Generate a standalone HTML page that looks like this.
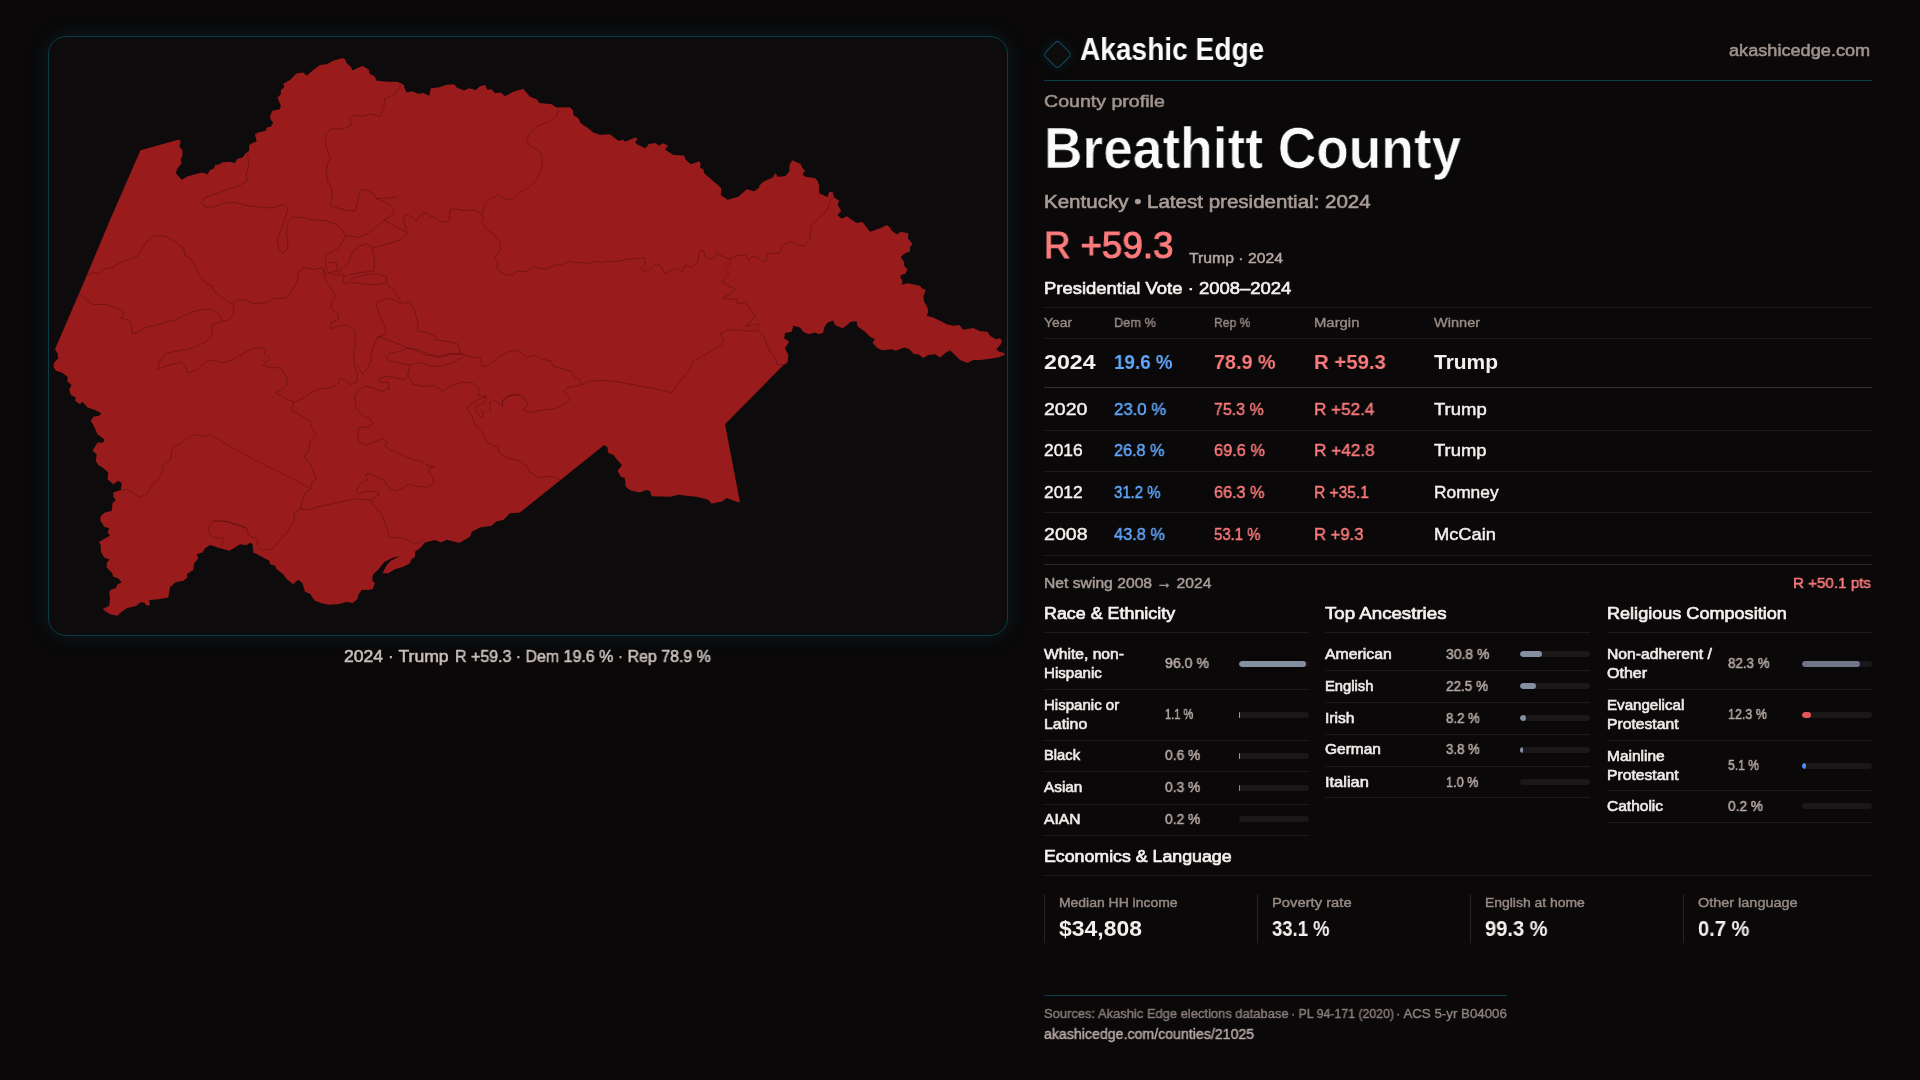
<!DOCTYPE html><html><head><meta charset="utf-8"><title>Breathitt County</title><style>

html,body{margin:0;padding:0}
body{width:1920px;height:1080px;background:#0a0809;position:relative;overflow:hidden;font-family:"Liberation Sans",sans-serif}
.t{position:absolute;will-change:transform;white-space:nowrap;line-height:1;transform-origin:0 50%}
.ln{position:absolute;height:1px;background:#1e1a1b}
.vl{position:absolute;width:1px;background:#1e1a1b}
.bar{position:absolute;height:6px;width:70px;border-radius:3px;background:#1a1718;overflow:hidden}
.bar i{display:block;height:6px;border-radius:3px}
#map{position:absolute;left:48px;top:36px;width:958px;height:598px;border:1px solid #093d4b;border-radius:18px;background:#0d0b0c;box-shadow:0 0 22px rgba(23,110,135,0.19)}

</style></head><body>
<div id="map"></div>
<svg style="position:absolute;left:0;top:0" width="1920" height="1080" viewBox="0 0 1920 1080"><polygon points="140.5,150.3 179.2,139.5 180.8,141.7 179.2,146.7 182.5,150.0 182.5,155.0 180.5,160.0 181.7,163.3 177.5,168.3 175.8,173.3 181.7,179.7 186.7,176.7 195.0,174.2 202.5,172.5 207.5,174.2 210.0,170.0 214.2,168.3 215.0,165.0 220.0,164.2 221.7,162.5 230.0,161.7 235.0,163.0 237.5,158.7 242.5,157.5 245.8,153.3 249.2,150.8 249.2,145.0 253.3,142.5 256.7,141.7 255.0,134.2 258.3,132.5 265.8,130.8 266.7,127.5 270.8,126.7 273.3,122.5 270.8,120.0 270.0,115.8 272.5,110.8 280.0,109.2 280.8,105.8 277.5,97.5 280.8,94.2 280.8,90.0 284.2,87.5 283.3,83.7 290.0,80.0 296.7,73.3 303.3,72.5 306.7,75.8 313.3,70.0 320.0,65.0 326.7,64.2 333.3,60.8 342.5,58.0 345.0,59.2 346.7,63.3 350.8,66.7 352.5,70.5 362.5,65.8 369.2,70.0 369.2,73.3 375.0,76.7 376.7,80.8 388.3,81.7 397.5,81.7 404.2,85.0 404.2,87.5 406.7,92.5 411.7,91.3 418.3,93.7 423.3,93.0 429.2,95.8 430.8,88.3 438.3,87.5 446.7,84.7 454.2,84.2 456.7,87.5 464.2,90.5 469.2,88.3 475.8,90.0 480.0,86.3 485.0,85.0 487.5,89.7 491.7,89.2 495.0,93.3 500.8,92.5 505.0,96.3 513.3,91.7 523.3,88.7 530.0,96.7 536.7,99.2 539.2,103.0 551.7,104.2 556.7,107.5 570.0,107.2 573.3,110.8 573.3,115.0 578.3,118.3 580.8,123.3 588.3,128.3 593.3,132.5 600.0,134.7 610.0,134.2 618.3,140.8 623.3,139.7 625.0,141.7 635.8,137.2 637.5,139.2 635.0,142.5 638.3,145.0 645.4,148.3 648.8,144.0 655.0,143.1 659.2,145.8 662.5,143.3 668.3,145.5 665.0,149.5 673.3,155.0 684.2,155.5 685.8,159.7 690.8,164.2 699.2,161.3 700.8,164.2 700.0,167.5 703.3,169.2 704.2,173.3 710.0,178.3 715.8,183.3 721.3,188.3 720.8,195.0 727.5,199.7 738.3,196.7 746.7,189.2 754.2,191.3 759.2,187.5 759.2,185.8 763.3,181.7 772.5,177.5 775.8,173.0 777.5,176.7 785.0,176.3 789.2,171.7 789.7,164.2 792.5,160.3 800.8,164.2 802.5,168.3 805.0,170.8 802.5,174.2 805.8,177.0 815.0,178.0 817.5,180.8 819.2,185.8 819.2,193.3 827.5,197.0 829.2,192.0 832.5,192.0 834.2,197.5 839.2,200.8 837.5,205.0 841.3,210.8 837.5,215.0 841.7,218.7 846.7,216.3 856.7,223.0 862.5,222.0 870.0,231.7 880.8,228.0 886.7,225.0 890.0,227.5 891.7,230.8 897.2,234.5 900.4,231.7 908.3,233.3 908.0,238.5 912.5,244.0 910.0,247.0 910.0,251.2 904.0,254.0 900.8,257.0 903.8,261.5 904.2,265.5 907.5,269.8 905.0,274.0 900.8,275.0 900.5,278.0 902.5,280.8 901.7,284.7 907.5,283.3 920.0,285.8 921.7,288.3 925.8,290.0 923.3,296.7 924.2,301.7 927.5,307.5 928.3,311.7 926.7,315.8 933.3,317.5 940.0,320.8 946.7,324.2 953.3,325.8 959.2,325.0 963.3,329.7 973.3,328.0 980.0,331.3 987.5,331.7 990.0,335.8 995.8,339.2 1000.0,338.3 1002.0,340.8 1000.8,344.2 996.3,349.2 999.2,351.7 1004.2,353.0 1004.7,354.7 998.3,357.5 993.3,358.3 986.7,359.2 980.0,360.0 973.3,360.0 967.5,363.0 960.0,360.0 955.0,355.0 950.0,350.3 945.0,353.3 940.0,357.5 935.0,354.2 928.3,355.0 923.3,358.0 918.3,354.2 914.2,354.2 909.2,349.2 904.2,347.5 895.8,350.8 891.7,349.2 881.7,350.3 876.7,347.5 872.5,342.5 875.0,339.2 870.0,336.7 865.0,331.7 860.0,328.3 857.5,326.3 856.7,321.3 850.8,321.7 845.0,326.7 842.5,328.3 835.0,325.0 833.3,320.5 827.5,322.5 824.2,327.5 823.3,332.5 819.2,334.2 815.0,332.5 808.3,334.2 803.3,331.7 800.0,327.5 793.3,325.8 791.7,331.7 785.0,333.0 784.2,338.3 789.2,341.7 785.0,348.3 788.3,355.0 787.5,362.5 783.3,365.3 725.0,424.2 740.0,502.5 735.0,501.3 726.7,498.0 722.5,501.3 711.7,503.7 708.3,499.7 696.7,496.7 686.7,495.8 678.3,494.7 670.0,496.7 651.7,496.3 650.0,491.3 646.7,490.0 639.2,492.5 630.0,490.3 625.8,486.7 624.7,478.0 620.8,476.7 617.5,470.8 622.0,465.3 616.7,459.2 613.3,454.7 608.3,453.0 607.5,447.5 604.2,445.0 520.0,512.5 510.0,513.3 503.3,520.0 496.7,521.3 491.7,525.8 480.0,527.5 471.7,531.7 470.0,536.7 459.2,543.0 446.7,539.7 440.8,542.5 435.0,540.0 425.0,542.5 420.0,548.3 415.0,551.7 415.0,556.7 410.8,560.0 410.0,563.3 403.3,566.7 395.0,569.2 388.3,573.3 382.5,573.3 386.7,565.0 391.0,560.5 399.7,556.2 393.3,557.5 384.2,562.0 378.0,570.0 373.3,574.2 372.5,576.7 372.5,580.8 375.0,583.3 372.5,589.2 367.5,590.0 361.7,589.7 358.3,595.0 357.5,599.2 352.5,603.0 346.7,602.0 338.3,604.2 328.3,604.7 321.7,603.3 315.0,600.8 311.7,596.7 310.8,594.2 305.0,591.7 302.5,583.3 298.3,579.7 295.8,581.7 293.3,584.2 286.7,579.0 283.3,574.2 276.7,569.2 275.0,565.8 270.0,564.2 269.2,560.8 261.7,556.7 253.3,552.5 252.5,544.2 250.0,542.5 246.7,545.3 240.0,544.2 235.0,547.5 229.2,550.8 220.0,548.3 210.0,545.0 205.0,548.3 202.5,552.5 196.7,554.2 198.3,558.3 194.2,563.3 193.3,570.0 186.7,574.2 187.5,577.5 183.3,580.8 175.0,582.5 170.0,587.5 169.2,592.5 168.3,597.5 158.3,599.2 149.2,600.0 150.0,605.0 146.7,605.8 144.2,602.5 140.0,602.5 136.7,605.8 126.7,608.3 121.7,611.7 117.5,615.8 110.0,614.2 102.5,609.2 109.2,605.8 110.0,598.3 109.2,591.7 111.7,589.2 115.8,588.3 117.5,584.2 121.7,582.5 118.3,578.3 113.3,576.7 111.7,572.5 106.7,567.5 106.7,563.3 109.2,559.2 104.2,557.5 100.8,551.7 100.8,545.8 99.2,541.7 106.7,537.5 110.0,535.8 107.5,532.5 109.2,528.3 104.2,526.7 100.0,520.0 100.8,515.8 105.0,512.5 111.7,510.8 112.5,503.3 115.8,500.0 113.3,496.7 113.3,492.5 120.8,490.0 121.7,483.3 118.3,480.8 113.3,484.2 107.5,479.2 108.3,472.5 102.5,467.5 98.3,465.0 95.8,460.8 96.7,454.2 92.5,450.8 97.5,442.5 103.0,442.5 104.7,439.7 97.5,434.2 94.2,426.7 90.8,420.8 93.3,416.7 99.2,415.8 101.3,413.3 95.0,410.0 87.5,407.5 82.5,401.7 80.0,404.2 75.0,400.8 75.8,397.5 70.8,395.0 69.2,389.2 71.7,385.0 67.5,381.7 67.5,376.7 61.7,372.5 55.8,370.8 53.3,366.7 54.2,362.5 58.3,358.3 57.5,353.3 55.0,349.2 84.8,280.0 110.0,220.0" fill="#991b1b"/><path d="M247.5 153.8 L248.8 165.0 L246.3 175.0 L247.0 181.3 L240.0 185.0 L220.0 192.5 L205.0 197.5 L201.3 202.5 L205.0 207.0 L212.5 207.0 L225.0 203.0 L235.0 202.5 L247.5 205.5 L265.0 208.0 L275.0 207.0 L283.8 204.5 L288.0 208.8 L286.3 215.0 L282.5 225.0 L280.0 232.5 L277.0 240.0 L278.8 248.8 L282.5 253.3 L287.5 250.0 L288.0 242.5 L286.3 232.5 L287.5 223.8 L292.5 217.5 L300.0 217.0 L312.5 220.0 L325.0 220.5 L336.3 224.5 L342.5 230.0 L345.5 236.3 L353.8 236.3 L358.8 237.5 L367.5 233.8 L375.0 227.5 L383.8 220.5 L393.8 213.8 L392.5 207.5 L386.3 202.5 L376.3 198.8 L373.8 193.8 L367.5 190.5 L361.3 189.5 L358.8 196.3 L356.3 206.3 L354.5 211.3 L345.0 210.0 L336.3 207.5 L330.0 205.0 L332.5 195.0 L331.3 187.5 L327.5 181.3 L326.3 171.3 L327.5 163.8 L330.5 157.5 L327.5 150.0 L325.0 142.5 L326.3 133.8 L331.3 128.8 L343.8 128.8 L351.3 125.0 L350.0 118.8 L353.8 115.0 L362.5 116.3 L370.0 113.8 L380.0 116.3 L383.8 107.5 L385.0 98.8 L395.0 93.8 L400.0 86.3 L401.3 84.5" fill="none" stroke="#470d0f" stroke-width="0.42" stroke-linejoin="round"/><path d="M376.3 198.8 L387.5 198.0 L397.5 197.0" fill="none" stroke="#470d0f" stroke-width="0.42" stroke-linejoin="round"/><path d="M384.0 220.0 L395.0 226.3 L407.5 233.0 L405.0 225.0 L402.5 217.5 L407.5 215.0 L412.5 217.5 L416.3 221.3 L420.0 215.0 L426.3 212.5 L430.0 216.3 L437.5 218.0 L440.0 222.0 L448.8 221.3 L450.0 210.0 L455.0 208.8 L465.0 210.5 L475.0 210.0 L482.5 215.0" fill="none" stroke="#470d0f" stroke-width="0.42" stroke-linejoin="round"/><path d="M407.5 233.0 L400.0 240.0 L387.5 243.8 L372.5 248.0 L367.5 243.8 L360.0 245.5 L352.5 252.5 L348.8 262.5 L340.0 270.0 L337.5 275.0" fill="none" stroke="#470d0f" stroke-width="0.42" stroke-linejoin="round"/><path d="M372.5 248.0 L374.5 260.0 L373.8 271.3 L365.0 272.0 L352.5 273.8 L343.8 276.3 L342.5 281.3 L347.5 283.8 L351.3 278.8 L365.0 275.0 L377.5 273.8 L386.3 276.3 L386.3 282.5 L375.0 285.0 L362.5 283.8 L351.3 282.5" fill="none" stroke="#470d0f" stroke-width="0.42" stroke-linejoin="round"/><path d="M345.5 236.3 L338.8 247.5 L326.3 255.0 L325.0 262.5 L327.5 272.5 L333.8 275.0 L343.8 275.0" fill="none" stroke="#470d0f" stroke-width="0.42" stroke-linejoin="round"/><path d="M328.8 262.5 L336.3 262.5 L337.5 271.3 L328.8 272.5" fill="none" stroke="#470d0f" stroke-width="0.42" stroke-linejoin="round"/><path d="M85.0 276.3 L93.8 272.5 L100.0 273.8 L105.0 268.8 L112.5 267.5 L120.0 262.5 L127.5 260.0 L137.5 256.3 L142.5 247.5 L147.5 240.0 L155.0 235.5 L165.0 236.3 L175.0 241.3 L183.8 248.8 L185.0 255.0 L192.5 260.0 L195.0 267.5 L200.0 276.3 L205.0 282.5 L212.5 286.3 L215.0 292.5 L222.5 297.5 L232.5 304.5 L237.5 300.0 L245.0 300.0 L255.0 303.8 L267.5 302.5 L273.8 298.8 L286.3 297.5 L292.5 290.0 L297.5 280.0 L298.8 271.3 L303.8 267.5 L312.5 269.5 L322.5 267.5 L326.3 275.0" fill="none" stroke="#470d0f" stroke-width="0.42" stroke-linejoin="round"/><path d="M78.8 292.5 L86.3 300.0 L93.8 304.5 L106.3 304.5 L115.0 307.5 L122.5 310.5 L123.8 315.0 L120.5 318.0 L128.8 320.0 L131.3 326.3 L132.5 333.8 L140.0 331.3 L145.0 327.5 L157.5 325.0 L165.0 322.5 L175.0 320.0 L182.5 316.3 L192.5 312.0 L202.5 309.5 L211.3 309.3 L217.5 312.5 L220.5 317.5 L222.5 321.3 L228.8 320.0 L233.8 313.8 L233.8 306.3" fill="none" stroke="#470d0f" stroke-width="0.42" stroke-linejoin="round"/><path d="M322.5 268.8 L325.0 277.5 L327.5 283.8 L332.5 290.0 L336.3 297.5" fill="none" stroke="#470d0f" stroke-width="0.42" stroke-linejoin="round"/><path d="M386.3 282.5 L395.0 292.5 L401.3 302.5" fill="none" stroke="#470d0f" stroke-width="0.42" stroke-linejoin="round"/><path d="M558.8 110.0 L556.3 116.3 L550.0 121.3 L540.0 125.0 L533.8 128.8 L528.8 135.0 L526.3 141.3 L531.3 146.3 L540.0 151.3 L542.5 157.5 L541.3 168.8 L536.3 180.0 L528.8 187.5 L518.8 192.5 L511.3 200.0 L505.0 198.8 L498.8 195.0 L490.0 198.8 L483.8 206.3 L482.5 215.0 L483.8 220.0 L481.3 222.5 L487.5 230.0 L496.3 236.3 L500.0 242.5 L500.0 250.0 L495.0 257.5 L497.5 262.5 L496.3 267.5 L500.0 271.3 L506.3 275.0 L512.5 275.0 L517.5 271.3 L527.5 271.3 L533.8 266.3 L540.0 268.8 L547.5 268.8 L555.0 265.0 L561.3 265.0 L568.8 261.3 L576.3 262.5 L582.5 262.5 L590.0 263.8 L593.8 261.3 L602.5 262.5 L607.5 261.3 L617.5 261.3 L630.0 258.8 L637.5 258.8 L643.8 257.5 L645.5 263.8 L641.3 268.8 L643.8 271.3 L650.0 270.0 L655.0 263.8 L660.0 265.0 L665.0 273.8 L670.0 271.3 L675.0 267.5 L682.5 272.0 L685.0 265.0 L692.5 267.5 L697.5 262.5 L700.0 250.0 L703.8 250.5 L705.0 256.3 L708.8 259.3 L713.8 257.5 L716.3 253.3 L722.5 256.3 L730.0 259.3 L737.5 255.5 L745.0 255.0 L748.8 260.5 L752.5 256.3 L757.5 257.5 L761.3 261.3 L766.3 260.5 L767.0 253.8 L780.0 253.0 L782.5 245.0 L791.3 241.3 L797.5 245.0 L803.8 246.3 L810.0 238.8 L811.3 225.0 L816.3 220.0 L825.0 212.5 L828.8 206.3 L830.0 200.0 L835.0 196.3" fill="none" stroke="#470d0f" stroke-width="0.42" stroke-linejoin="round"/><path d="M730.0 259.3 L730.0 263.8 L725.0 268.8 L728.8 273.8 L723.8 278.8 L722.5 282.5 L730.0 286.3 L735.0 288.8 L730.0 293.8 L722.5 298.0 L730.0 299.5 L737.5 298.8 L737.5 303.8 L745.0 302.5 L751.3 310.0 L755.0 315.0 L751.3 321.3 L746.3 326.3 L753.8 325.0 L758.8 323.8 L757.5 330.0" fill="none" stroke="#470d0f" stroke-width="0.42" stroke-linejoin="round"/><path d="M757.5 330.0 L763.8 336.3 L767.5 345.0 L770.0 352.5 L775.0 357.5 L777.5 364.5 L786.3 365.0" fill="none" stroke="#470d0f" stroke-width="0.42" stroke-linejoin="round"/><path d="M757.5 330.0 L750.0 331.3 L740.0 330.0 L727.5 330.0 L720.0 333.8 L723.8 338.8 L721.3 345.0 L712.5 350.0 L702.5 356.3 L692.5 361.3 L690.0 368.8 L685.0 375.0 L677.5 385.0 L671.3 392.5 L655.0 388.8 L635.0 385.0 L615.0 381.3 L600.0 380.5 L587.5 381.3 L581.3 385.0 L580.0 379.5 L575.0 377.5 L571.3 371.3 L562.5 368.8 L552.5 366.3 L551.3 361.3 L541.3 358.8 L533.8 355.0 L526.3 357.5 L521.3 352.5 L517.5 350.5" fill="none" stroke="#470d0f" stroke-width="0.42" stroke-linejoin="round"/><path d="M581.3 385.0 L567.5 387.5 L563.8 391.3 L570.0 397.5 L567.5 402.5 L555.0 408.8 L542.5 410.0 L530.0 412.5 L523.8 410.0 L527.5 405.0 L523.8 397.5 L517.5 393.8 L507.5 396.3 L502.5 401.3 L502.5 406.3 L495.0 400.0 L490.0 402.5 L490.0 412.5" fill="none" stroke="#470d0f" stroke-width="0.42" stroke-linejoin="round"/><path d="M222.5 321.3 L212.5 325.0 L211.3 336.3 L205.0 342.5 L190.0 348.8 L176.3 351.3 L165.0 353.8 L160.0 361.3 L158.0 368.8 L170.0 365.0 L181.3 362.0 L186.3 368.8 L187.5 373.0 L196.3 370.5 L205.0 362.0 L212.5 360.0 L222.5 363.0 L232.5 360.0 L242.5 353.8 L252.5 348.8 L261.3 347.5 L266.3 350.0 L263.8 353.8 L270.0 358.0 L266.3 362.5 L262.5 365.5 L271.3 367.5 L281.3 368.0 L283.8 373.8 L287.5 377.5 L286.3 385.0 L281.3 390.0 L275.5 392.5 L280.0 395.5 L286.3 398.8 L293.8 402.0" fill="none" stroke="#470d0f" stroke-width="0.42" stroke-linejoin="round"/><path d="M293.8 402.0 L305.0 397.5 L310.0 393.0 L320.0 388.8 L332.5 387.5 L338.8 382.5 L340.0 377.5 L345.0 380.0 L350.0 384.5 L356.3 382.5 L357.5 375.0 L354.5 365.0 L353.8 352.5 L355.5 342.5 L354.5 330.0 L346.3 325.0 L337.5 326.3 L330.0 328.8 L331.3 322.5 L338.8 318.8 L337.5 313.8 L331.3 308.8 L331.3 301.3 L336.3 297.5" fill="none" stroke="#470d0f" stroke-width="0.42" stroke-linejoin="round"/><path d="M293.8 402.0 L291.3 410.0 L300.0 415.0 L310.0 421.3 L312.5 428.8 L316.3 435.0 L310.0 441.3 L308.8 450.0 L303.8 457.5 L310.0 463.0 L313.0 471.0 L316.5 478.5 L311.0 483.5 L312.0 488.0 L305.0 493.3 L302.0 501.0 L301.0 508.5 L293.5 513.5 L295.0 520.0 L290.0 526.7 L286.7 533.3 L278.3 541.7 L271.7 549.2 L261.7 550.0 L257.5 545.0 L256.7 539.2 L248.3 535.0 L246.7 528.3 L236.7 525.0 L228.3 521.7 L213.3 520.8 L208.3 528.3 L210.0 535.0 L214.2 537.5 L223.3 538.3 L224.2 541.7 L220.8 546.7" fill="none" stroke="#470d0f" stroke-width="0.42" stroke-linejoin="round"/><path d="M121.3 490.0 L127.5 489.5 L133.8 493.8 L138.8 497.5 L147.5 493.8 L151.3 486.3 L157.5 480.0 L162.5 472.5 L162.5 466.3 L170.0 460.0 L172.5 447.5 L180.0 443.8 L190.0 436.3 L196.3 434.5 L203.8 437.0 L210.0 434.5 L230.0 446.3 L252.5 458.8 L275.0 470.0 L295.0 480.0 L310.0 488.5" fill="none" stroke="#470d0f" stroke-width="0.42" stroke-linejoin="round"/><path d="M301.0 508.5 L307.5 510.0 L320.0 506.3 L340.0 502.0 L357.5 498.8 L370.0 500.0 L375.0 507.5 L380.0 511.3 L383.8 520.0 L387.5 530.0 L388.8 537.5 L397.5 537.5 L407.5 540.0 L415.0 543.8 L422.5 541.3" fill="none" stroke="#470d0f" stroke-width="0.42" stroke-linejoin="round"/><path d="M370.0 500.0 L378.8 495.0 L377.5 491.3 L367.5 491.3 L358.8 493.8 L356.3 490.0 L360.0 483.8 L367.5 480.0 L365.0 475.0 L370.0 473.3 L377.5 477.5 L383.8 480.0 L387.5 486.3 L395.0 491.3 L403.8 487.5 L410.0 483.8 L417.5 486.3 L427.5 487.0 L433.8 483.8 L432.5 477.5 L428.8 472.5 L430.0 467.5 L434.5 466.8 L426.3 464.5 L420.0 461.3 L410.0 458.8 L400.0 453.8 L390.0 450.0 L385.0 446.3 L387.5 441.3 L381.3 438.8 L372.5 442.5 L365.0 445.0 L358.8 441.3 L357.5 433.8 L358.8 427.5 L367.5 427.0 L373.8 423.8 L370.0 418.8 L361.3 415.0 L356.3 407.5 L354.5 397.5 L357.5 390.0 L365.0 386.3 L372.5 387.5 L381.3 391.3 L388.8 388.8 L388.8 382.5 L380.0 382.0 L378.8 378.8 L385.0 376.3 L395.0 377.5 L403.8 380.0 L407.5 376.3 L408.8 368.8 L410.0 365.0 L397.5 362.5 L388.8 361.3 L386.3 357.5 L388.8 353.8 L400.0 351.3 L407.5 348.0" fill="none" stroke="#470d0f" stroke-width="0.42" stroke-linejoin="round"/><path d="M377.5 301.3 L376.3 305.0 L378.8 313.8 L382.5 321.3 L386.3 331.3 L383.8 335.5 L377.5 337.0 L373.8 345.0 L371.3 352.5 L371.3 360.0 L366.3 370.0 L362.5 374.5 L357.5 365.0" fill="none" stroke="#470d0f" stroke-width="0.42" stroke-linejoin="round"/><path d="M377.5 301.3 L390.0 298.0 L401.3 303.8 L410.0 302.0 L415.0 311.3 L417.5 321.3 L418.0 331.3 L426.3 332.5 L435.0 336.3 L436.3 340.0 L446.3 341.3 L457.5 343.8 L461.3 353.8 L450.0 353.8 L437.5 356.3 L426.3 355.0 L415.0 350.0 L407.5 348.0 L395.0 342.5 L386.3 339.5 L377.5 337.0" fill="none" stroke="#470d0f" stroke-width="0.42" stroke-linejoin="round"/><path d="M407.5 348.0 L420.0 350.0 L430.0 355.0 L440.0 357.5 L452.5 353.8 L462.5 354.5 L470.0 357.0 L480.0 357.5 L482.5 367.0 L490.0 363.8 L500.0 356.3 L510.0 351.3 L517.5 350.5" fill="none" stroke="#470d0f" stroke-width="0.42" stroke-linejoin="round"/><path d="M410.0 365.0 L420.0 362.5 L430.0 366.3 L440.0 366.3 L450.0 363.8 L462.5 357.5" fill="none" stroke="#470d0f" stroke-width="0.42" stroke-linejoin="round"/><path d="M408.8 376.3 L412.5 383.8 L422.5 386.3 L435.0 385.5 L442.5 391.3 L450.0 386.3 L462.5 382.0 L472.5 383.0 L480.0 388.8 L477.5 395.0 L486.3 396.3 L485.0 402.5 L476.3 406.3 L476.3 412.5 L481.3 417.5 L483.8 412.5 L480.0 410.0" fill="none" stroke="#470d0f" stroke-width="0.42" stroke-linejoin="round"/><path d="M486.3 396.3 L475.0 401.3 L466.3 407.5 L471.3 415.0 L475.0 425.0 L482.5 432.5 L487.5 442.5 L497.5 447.5 L500.0 453.8 L510.0 458.8 L518.3 460.8 L526.7 465.8 L530.0 472.5 L538.8 477.5 L552.5 476.3 L560.0 479.5" fill="none" stroke="#470d0f" stroke-width="0.42" stroke-linejoin="round"/><path d="M520.0 395.0 L510.0 395.5 L502.5 400.0 L502.5 405.0" fill="none" stroke="#470d0f" stroke-width="0.42" stroke-linejoin="round"/><path d="M213.3 520.8 L225.0 521.3 L235.0 523.8 L246.3 527.5" fill="none" stroke="#470d0f" stroke-width="0.42" stroke-linejoin="round"/></svg>
<div style="position:absolute;left:1046.6px;top:43.8px;width:19px;height:19px;border:1.9px solid #0f4b5c;border-radius:4px;transform:rotate(45deg);background:#0e0b0c;box-shadow:0 0 12px rgba(23,110,135,0.22)"></div>
<div class="ln" style="left:1044px;top:80px;width:828px;background:#093d4b"></div>
<div class="ln" style="left:1044px;top:307px;width:828px"></div>
<div class="ln" style="left:1044px;top:338px;width:828px"></div>
<div class="ln" style="left:1044px;top:430px;width:828px"></div>
<div class="ln" style="left:1044px;top:471px;width:828px"></div>
<div class="ln" style="left:1044px;top:512px;width:828px"></div>
<div class="ln" style="left:1044px;top:555px;width:828px"></div>
<div class="ln" style="left:1044px;top:387px;width:828px;background:#353132"></div>
<div class="ln" style="left:1044px;top:564px;width:828px;background:#2b2627"></div>
<div class="ln" style="left:1044px;top:632px;width:265px"></div>
<div class="ln" style="left:1044px;top:689px;width:265px"></div>
<div class="ln" style="left:1044px;top:740px;width:265px"></div>
<div class="ln" style="left:1044px;top:771px;width:265px"></div>
<div class="ln" style="left:1044px;top:804px;width:265px"></div>
<div class="ln" style="left:1044px;top:835px;width:265px"></div>
<div class="ln" style="left:1325px;top:632px;width:265px"></div>
<div class="ln" style="left:1325px;top:670px;width:265px"></div>
<div class="ln" style="left:1325px;top:702px;width:265px"></div>
<div class="ln" style="left:1325px;top:734px;width:265px"></div>
<div class="ln" style="left:1325px;top:766px;width:265px"></div>
<div class="ln" style="left:1325px;top:797px;width:265px"></div>
<div class="ln" style="left:1607px;top:632px;width:265px"></div>
<div class="ln" style="left:1607px;top:689px;width:265px"></div>
<div class="ln" style="left:1607px;top:740px;width:265px"></div>
<div class="ln" style="left:1607px;top:790px;width:265px"></div>
<div class="ln" style="left:1607px;top:822px;width:265px"></div>
<div class="ln" style="left:1044px;top:875px;width:828px"></div>
<div class="ln" style="left:1044px;top:995px;width:463px;background:#093d4b"></div>
<div class="vl" style="left:1044px;top:894px;height:49px;background:#272223"></div>
<div class="vl" style="left:1257px;top:894px;height:49px;background:#272223"></div>
<div class="vl" style="left:1470px;top:894px;height:49px;background:#272223"></div>
<div class="vl" style="left:1683px;top:894px;height:49px;background:#272223"></div>
<div class="bar" style="left:1239px;top:661px"><i style="width:67.20px;background:#848fa2"></i></div>
<div class="bar" style="left:1239px;top:712px"></div><div style="position:absolute;left:1238.7px;top:712px;width:1.6px;height:6px;border-radius:0.6px;background:#e5940f"></div>
<div class="bar" style="left:1239px;top:753px"></div><div style="position:absolute;left:1238.7px;top:753px;width:1.6px;height:6px;border-radius:0.6px;background:#9f85e8"></div>
<div class="bar" style="left:1239px;top:785px"></div><div style="position:absolute;left:1238.7px;top:785px;width:1.6px;height:6px;border-radius:0.6px;background:#2db98b"></div>
<div class="bar" style="left:1239px;top:816px"><i style="width:0.00px;background:#000"></i></div>
<div class="bar" style="left:1520px;top:651px"><i style="width:21.56px;background:#848fa2"></i></div>
<div class="bar" style="left:1520px;top:683px"><i style="width:15.75px;background:#848fa2"></i></div>
<div class="bar" style="left:1520px;top:715px"><i style="width:5.74px;background:#848fa2"></i></div>
<div class="bar" style="left:1520px;top:747px"><i style="width:2.66px;background:#848fa2"></i></div>
<div class="bar" style="left:1520px;top:779px"><i style="width:0.00px;background:#848fa2"></i></div>
<div class="bar" style="left:1802px;top:661px"><i style="width:57.61px;background:#6e7688"></i></div>
<div class="bar" style="left:1802px;top:712px"><i style="width:8.61px;background:#e0575b"></i></div>
<div class="bar" style="left:1802px;top:763px"><i style="width:3.57px;background:#4c8fe8"></i></div>
<div class="bar" style="left:1802px;top:803px"><i style="width:0.00px;background:#000"></i></div>
<div class="t" style="left:1080.00px;top:34px;font-size:30.6px;color:#fafaf9;font-weight:bold;transform:scaleX(0.9185)">Akashic Edge</div>
<div class="t" style="left:1729.40px;top:42px;font-size:17.4px;color:#a0948d;-webkit-text-stroke:0.55px #a0948d;transform:scaleX(1.0433)">akashicedge.com</div>
<div class="t" style="left:1044.00px;top:93px;font-size:16.5px;color:#a0948d;-webkit-text-stroke:0.55px #a0948d;transform:scaleX(1.1863)">County profile</div>
<div class="t" style="left:1044.00px;top:119px;font-size:58.21px;color:#fafaf9;font-weight:bold;-webkit-text-stroke:0.70px #0a0809;transform:scaleX(0.9152)">Breathitt County</div>
<div class="t" style="left:1044.00px;top:193px;font-size:18.43px;color:#a89c97;-webkit-text-stroke:0.60px #a89c97;transform:scaleX(1.1143)">Kentucky • Latest presidential: 2024</div>
<div class="t" style="left:1044.00px;top:227px;font-size:37.81px;color:#fc7b7c;-webkit-text-stroke:1.10px #fc7b7c;transform:scaleX(0.9689)">R +59.3</div>
<div class="t" style="left:1188.75px;top:251px;font-size:14.55px;color:#b5a9a4;-webkit-text-stroke:0.45px #b5a9a4;transform:scaleX(1.0833)">Trump · 2024</div>
<div class="t" style="left:1044.00px;top:280px;font-size:17.06px;color:#f5f0ee;-webkit-text-stroke:0.65px #f5f0ee;transform:scaleX(1.0827)">Presidential Vote · 2008–2024</div>
<div class="t" style="left:1044.00px;top:316px;font-size:13.62px;color:#968a84;-webkit-text-stroke:0.40px #968a84;transform:scaleX(1.0179)">Year</div>
<div class="t" style="left:1114.00px;top:316px;font-size:13.62px;color:#968a84;-webkit-text-stroke:0.40px #968a84;transform:scaleX(0.9414)">Dem %</div>
<div class="t" style="left:1214.00px;top:316px;font-size:13.62px;color:#968a84;-webkit-text-stroke:0.40px #968a84;transform:scaleX(0.8902)">Rep %</div>
<div class="t" style="left:1314.00px;top:316px;font-size:13.62px;color:#968a84;-webkit-text-stroke:0.40px #968a84;transform:scaleX(1.0915)">Margin</div>
<div class="t" style="left:1434.00px;top:316px;font-size:13.62px;color:#968a84;-webkit-text-stroke:0.40px #968a84;transform:scaleX(1.0698)">Winner</div>
<div class="t" style="left:1044.00px;top:352px;font-size:20.8px;color:#f5f0ee;font-weight:bold;transform:scaleX(1.1132)">2024</div>
<div class="t" style="left:1114.00px;top:352px;font-size:20.8px;color:#62a7fc;font-weight:bold;transform:scaleX(0.9034)">19.6 %</div>
<div class="t" style="left:1214.00px;top:352px;font-size:20.8px;color:#fc7b7c;font-weight:bold;transform:scaleX(0.9501)">78.9 %</div>
<div class="t" style="left:1314.00px;top:352px;font-size:20.8px;color:#fc7b7c;font-weight:bold;transform:scaleX(0.9795)">R +59.3</div>
<div class="t" style="left:1434.00px;top:352px;font-size:20.8px;color:#f5f0ee;font-weight:bold;transform:scaleX(1.0079)">Trump</div>
<div class="t" style="left:1044.00px;top:401px;font-size:17.35px;color:#f5f0ee;-webkit-text-stroke:0.45px #f5f0ee;transform:scaleX(1.1260)">2020</div>
<div class="t" style="left:1114.00px;top:401px;font-size:17.35px;color:#62a7fc;-webkit-text-stroke:0.45px #62a7fc;transform:scaleX(0.9676)">23.0 %</div>
<div class="t" style="left:1214.00px;top:401px;font-size:17.35px;color:#fc7b7c;-webkit-text-stroke:0.45px #fc7b7c;transform:scaleX(0.9213)">75.3 %</div>
<div class="t" style="left:1314.00px;top:401px;font-size:17.35px;color:#fc7b7c;-webkit-text-stroke:0.45px #fc7b7c;transform:scaleX(0.9877)">R +52.4</div>
<div class="t" style="left:1434.00px;top:401px;font-size:17.35px;color:#f5f0ee;-webkit-text-stroke:0.45px #f5f0ee;transform:scaleX(1.0663)">Trump</div>
<div class="t" style="left:1044.00px;top:442px;font-size:17.35px;color:#f5f0ee;-webkit-text-stroke:0.45px #f5f0ee;transform:scaleX(0.9986)">2016</div>
<div class="t" style="left:1114.00px;top:442px;font-size:17.35px;color:#62a7fc;-webkit-text-stroke:0.45px #62a7fc;transform:scaleX(0.9352)">26.8 %</div>
<div class="t" style="left:1214.00px;top:442px;font-size:17.35px;color:#fc7b7c;-webkit-text-stroke:0.45px #fc7b7c;transform:scaleX(0.9444)">69.6 %</div>
<div class="t" style="left:1314.00px;top:442px;font-size:17.35px;color:#fc7b7c;-webkit-text-stroke:0.45px #fc7b7c;transform:scaleX(0.9918)">R +42.8</div>
<div class="t" style="left:1434.00px;top:442px;font-size:17.35px;color:#f5f0ee;-webkit-text-stroke:0.45px #f5f0ee;transform:scaleX(1.0612)">Trump</div>
<div class="t" style="left:1044.00px;top:484px;font-size:17.35px;color:#f5f0ee;-webkit-text-stroke:0.45px #f5f0ee;transform:scaleX(1.0000)">2012</div>
<div class="t" style="left:1114.00px;top:484px;font-size:17.35px;color:#62a7fc;-webkit-text-stroke:0.45px #62a7fc;transform:scaleX(0.8611)">31.2 %</div>
<div class="t" style="left:1214.00px;top:484px;font-size:17.35px;color:#fc7b7c;-webkit-text-stroke:0.45px #fc7b7c;transform:scaleX(0.9352)">66.3 %</div>
<div class="t" style="left:1314.00px;top:484px;font-size:17.35px;color:#fc7b7c;-webkit-text-stroke:0.45px #fc7b7c;transform:scaleX(0.8975)">R +35.1</div>
<div class="t" style="left:1434.00px;top:484px;font-size:17.35px;color:#f5f0ee;-webkit-text-stroke:0.45px #f5f0ee;transform:scaleX(0.9962)">Romney</div>
<div class="t" style="left:1044.00px;top:526px;font-size:17.35px;color:#f5f0ee;-webkit-text-stroke:0.45px #f5f0ee;transform:scaleX(1.1287)">2008</div>
<div class="t" style="left:1114.00px;top:526px;font-size:17.35px;color:#62a7fc;-webkit-text-stroke:0.45px #62a7fc;transform:scaleX(0.9444)">43.8 %</div>
<div class="t" style="left:1214.00px;top:526px;font-size:17.35px;color:#fc7b7c;-webkit-text-stroke:0.45px #fc7b7c;transform:scaleX(0.8611)">53.1 %</div>
<div class="t" style="left:1314.00px;top:526px;font-size:17.35px;color:#fc7b7c;-webkit-text-stroke:0.45px #fc7b7c;transform:scaleX(0.9591)">R +9.3</div>
<div class="t" style="left:1434.00px;top:526px;font-size:17.35px;color:#f5f0ee;-webkit-text-stroke:0.45px #f5f0ee;transform:scaleX(1.0517)">McCain</div>
<div class="t" style="left:1044.00px;top:575px;font-size:15.48px;color:#a89c97;-webkit-text-stroke:0.50px #a89c97;transform:scaleX(1.0136)">Net swing 2008 → 2024</div>
<div class="t" style="left:1792.62px;top:575px;font-size:15.48px;color:#fc7b7c;-webkit-text-stroke:0.50px #fc7b7c;transform:scaleX(0.9799)">R +50.1 pts</div>
<div class="t" style="left:1044.00px;top:605px;font-size:16.99px;color:#f5f0ee;-webkit-text-stroke:0.70px #f5f0ee;transform:scaleX(1.0520)">Race &amp; Ethnicity</div>
<div class="t" style="left:1325.00px;top:605px;font-size:16.99px;color:#f5f0ee;-webkit-text-stroke:0.70px #f5f0ee;transform:scaleX(1.1000)">Top Ancestries</div>
<div class="t" style="left:1607.00px;top:605px;font-size:16.99px;color:#f5f0ee;-webkit-text-stroke:0.70px #f5f0ee;transform:scaleX(1.0639)">Religious Composition</div>
<div class="t" style="left:1044.00px;top:848px;font-size:16.99px;color:#f5f0ee;-webkit-text-stroke:0.70px #f5f0ee;transform:scaleX(1.0459)">Economics &amp; Language</div>
<div class="t" style="left:1044.00px;top:647px;font-size:14.13px;color:#f0ebe9;-webkit-text-stroke:0.60px #f0ebe9;transform:scaleX(1.1069)">White, non-</div>
<div class="t" style="left:1044.00px;top:666px;font-size:14.13px;color:#f0ebe9;-webkit-text-stroke:0.60px #f0ebe9;transform:scaleX(1.0685)">Hispanic</div>
<div class="t" style="left:1165.00px;top:656px;font-size:14.28px;color:#b5a9a4;-webkit-text-stroke:0.50px #b5a9a4;transform:scaleX(0.9912)">96.0 %</div>
<div class="t" style="left:1044.00px;top:698px;font-size:14.13px;color:#f0ebe9;-webkit-text-stroke:0.60px #f0ebe9;transform:scaleX(1.0648)">Hispanic or</div>
<div class="t" style="left:1044.00px;top:717px;font-size:14.13px;color:#f0ebe9;-webkit-text-stroke:0.60px #f0ebe9;transform:scaleX(1.1223)">Latino</div>
<div class="t" style="left:1165.00px;top:707px;font-size:14.28px;color:#b5a9a4;-webkit-text-stroke:0.50px #b5a9a4;transform:scaleX(0.7737)">1.1 %</div>
<div class="t" style="left:1044.00px;top:748px;font-size:14.13px;color:#f0ebe9;-webkit-text-stroke:0.60px #f0ebe9;transform:scaleX(1.0424)">Black</div>
<div class="t" style="left:1165.00px;top:748px;font-size:14.28px;color:#b5a9a4;-webkit-text-stroke:0.50px #b5a9a4;transform:scaleX(0.9672)">0.6 %</div>
<div class="t" style="left:1044.00px;top:780px;font-size:14.13px;color:#f0ebe9;-webkit-text-stroke:0.60px #f0ebe9;transform:scaleX(1.0857)">Asian</div>
<div class="t" style="left:1165.00px;top:780px;font-size:14.28px;color:#b5a9a4;-webkit-text-stroke:0.50px #b5a9a4;transform:scaleX(0.9672)">0.3 %</div>
<div class="t" style="left:1044.00px;top:812px;font-size:14.13px;color:#f0ebe9;-webkit-text-stroke:0.60px #f0ebe9;transform:scaleX(1.1046)">AIAN</div>
<div class="t" style="left:1165.00px;top:812px;font-size:14.28px;color:#b5a9a4;-webkit-text-stroke:0.50px #b5a9a4;transform:scaleX(0.9672)">0.2 %</div>
<div class="t" style="left:1325.00px;top:647px;font-size:14.13px;color:#f0ebe9;-webkit-text-stroke:0.60px #f0ebe9;transform:scaleX(1.1186)">American</div>
<div class="t" style="left:1446.00px;top:647px;font-size:14.28px;color:#b5a9a4;-webkit-text-stroke:0.50px #b5a9a4;transform:scaleX(0.9776)">30.8 %</div>
<div class="t" style="left:1325.00px;top:679px;font-size:14.13px;color:#f0ebe9;-webkit-text-stroke:0.60px #f0ebe9;transform:scaleX(1.0457)">English</div>
<div class="t" style="left:1446.00px;top:679px;font-size:14.28px;color:#b5a9a4;-webkit-text-stroke:0.50px #b5a9a4;transform:scaleX(0.9460)">22.5 %</div>
<div class="t" style="left:1325.00px;top:711px;font-size:14.13px;color:#f0ebe9;-webkit-text-stroke:0.60px #f0ebe9;transform:scaleX(1.1077)">Irish</div>
<div class="t" style="left:1446.00px;top:711px;font-size:14.28px;color:#b5a9a4;-webkit-text-stroke:0.50px #b5a9a4;transform:scaleX(0.9257)">8.2 %</div>
<div class="t" style="left:1325.00px;top:742px;font-size:14.13px;color:#f0ebe9;-webkit-text-stroke:0.60px #f0ebe9;transform:scaleX(1.0961)">German</div>
<div class="t" style="left:1446.00px;top:742px;font-size:14.28px;color:#b5a9a4;-webkit-text-stroke:0.50px #b5a9a4;transform:scaleX(0.9257)">3.8 %</div>
<div class="t" style="left:1325.00px;top:775px;font-size:14.13px;color:#f0ebe9;-webkit-text-stroke:0.60px #f0ebe9;transform:scaleX(1.1622)">Italian</div>
<div class="t" style="left:1446.00px;top:775px;font-size:14.28px;color:#b5a9a4;-webkit-text-stroke:0.50px #b5a9a4;transform:scaleX(0.8898)">1.0 %</div>
<div class="t" style="left:1607.00px;top:647px;font-size:14.13px;color:#f0ebe9;-webkit-text-stroke:0.60px #f0ebe9;transform:scaleX(1.1134)">Non-adherent /</div>
<div class="t" style="left:1607.00px;top:666px;font-size:14.13px;color:#f0ebe9;-webkit-text-stroke:0.60px #f0ebe9;transform:scaleX(1.1322)">Other</div>
<div class="t" style="left:1728.00px;top:656px;font-size:14.28px;color:#b5a9a4;-webkit-text-stroke:0.50px #b5a9a4;transform:scaleX(0.9369)">82.3 %</div>
<div class="t" style="left:1607.00px;top:698px;font-size:14.13px;color:#f0ebe9;-webkit-text-stroke:0.60px #f0ebe9;transform:scaleX(1.0694)">Evangelical</div>
<div class="t" style="left:1607.00px;top:717px;font-size:14.13px;color:#f0ebe9;-webkit-text-stroke:0.60px #f0ebe9;transform:scaleX(1.1108)">Protestant</div>
<div class="t" style="left:1728.00px;top:707px;font-size:14.28px;color:#b5a9a4;-webkit-text-stroke:0.50px #b5a9a4;transform:scaleX(0.8758)">12.3 %</div>
<div class="t" style="left:1607.00px;top:749px;font-size:14.13px;color:#f0ebe9;-webkit-text-stroke:0.60px #f0ebe9;transform:scaleX(1.0976)">Mainline</div>
<div class="t" style="left:1607.00px;top:768px;font-size:14.13px;color:#f0ebe9;-webkit-text-stroke:0.60px #f0ebe9;transform:scaleX(1.1108)">Protestant</div>
<div class="t" style="left:1728.00px;top:758px;font-size:14.28px;color:#b5a9a4;-webkit-text-stroke:0.50px #b5a9a4;transform:scaleX(0.8483)">5.1 %</div>
<div class="t" style="left:1607.00px;top:799px;font-size:14.13px;color:#f0ebe9;-webkit-text-stroke:0.60px #f0ebe9;transform:scaleX(1.0980)">Catholic</div>
<div class="t" style="left:1728.00px;top:799px;font-size:14.28px;color:#b5a9a4;-webkit-text-stroke:0.50px #b5a9a4;transform:scaleX(0.9589)">0.2 %</div>
<div class="t" style="left:1059.00px;top:896px;font-size:13.65px;color:#968a84;-webkit-text-stroke:0.45px #968a84;transform:scaleX(1.0216)">Median HH income</div>
<div class="t" style="left:1059.00px;top:918px;font-size:21.2px;color:#f5f0ee;font-weight:bold;transform:scaleX(1.0822)">$34,808</div>
<div class="t" style="left:1272.00px;top:896px;font-size:13.65px;color:#968a84;-webkit-text-stroke:0.45px #968a84;transform:scaleX(1.0825)">Poverty rate</div>
<div class="t" style="left:1272.00px;top:918px;font-size:21.2px;color:#f5f0ee;font-weight:bold;transform:scaleX(0.8728)">33.1 %</div>
<div class="t" style="left:1485.00px;top:896px;font-size:13.65px;color:#968a84;-webkit-text-stroke:0.45px #968a84;transform:scaleX(1.0204)">English at home</div>
<div class="t" style="left:1485.00px;top:918px;font-size:21.2px;color:#f5f0ee;font-weight:bold;transform:scaleX(0.9494)">99.3 %</div>
<div class="t" style="left:1698.00px;top:896px;font-size:13.65px;color:#968a84;-webkit-text-stroke:0.45px #968a84;transform:scaleX(1.0585)">Other language</div>
<div class="t" style="left:1698.00px;top:918px;font-size:21.2px;color:#f5f0ee;font-weight:bold;transform:scaleX(0.9491)">0.7 %</div>
<div class="t" style="left:1044.00px;top:1007px;font-size:13.12px;color:#8a7f7b;-webkit-text-stroke:0.40px #8a7f7b;transform:scaleX(0.9869)">Sources: Akashic Edge elections database</div>
<div class="t" style="left:1291.26px;top:1007px;font-size:13.12px;color:#8a7f7b;-webkit-text-stroke:0.40px #8a7f7b;transform:scaleX(0.9403)">· PL 94-171 (2020)</div>
<div class="t" style="left:1395.69px;top:1007px;font-size:13.12px;color:#8a7f7b;-webkit-text-stroke:0.40px #8a7f7b;transform:scaleX(1.0144)">· ACS 5-yr B04006</div>
<div class="t" style="left:1044.00px;top:1027px;font-size:14.55px;color:#b5a9a4;-webkit-text-stroke:0.45px #b5a9a4;transform:scaleX(0.9734)">akashicedge.com/counties/21025</div>
<div class="t" style="left:344.20px;top:649px;font-size:16.7px;color:#c9bfba;-webkit-text-stroke:0.55px #c9bfba;transform:scaleX(1.0545)">2024 · Trump</div>
<div class="t" style="left:455.24px;top:649px;font-size:16.7px;color:#c9bfba;-webkit-text-stroke:0.55px #c9bfba;transform:scaleX(0.9561)">R +59.3 · Dem 19.6 % · Rep 78.9 %</div>
</body></html>
